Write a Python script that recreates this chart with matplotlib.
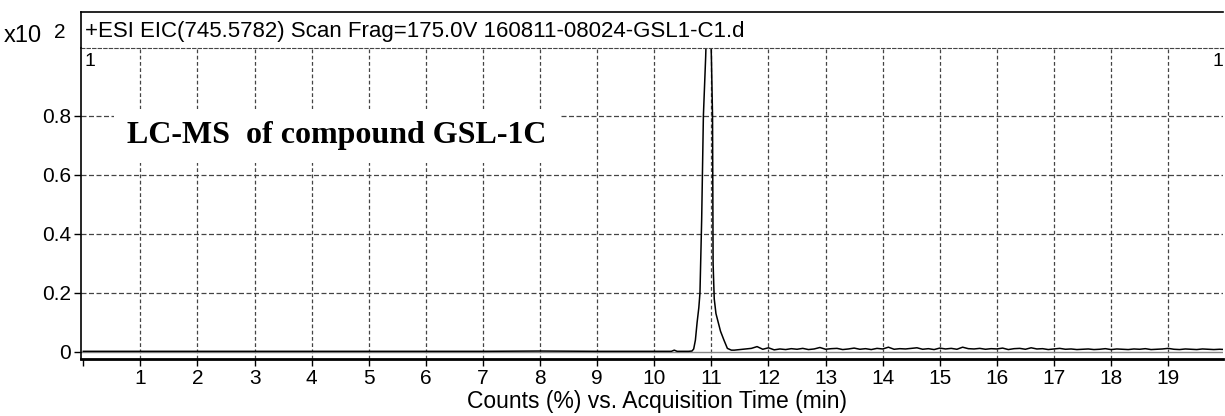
import numpy as np
import matplotlib.pyplot as plt

plt.rcParams['font.family'] = ['Liberation Sans', 'DejaVu Sans']

# baseline before the peak
t_pre = [0.0, 1.0, 2.0, 3.0, 4.0, 5.0, 6.0, 7.0, 8.0, 9.0, 10.0, 10.3, 10.35, 10.4, 10.6, 10.66]
y_pre = [0.002, 0.002, 0.002, 0.002, 0.002, 0.002, 0.002, 0.002, 0.003, 0.002, 0.002, 0.002, 0.006, 0.002, 0.002, 0.003]

# the main peak around 11 min
t_peak = [10.69, 10.72, 10.75, 10.78, 10.80, 10.83, 10.86, 10.90, 10.93, 10.97, 11.00, 11.02,
          11.03, 11.05, 11.08, 11.12, 11.16, 11.22, 11.28, 11.35]
y_peak = [0.01, 0.04, 0.10, 0.15, 0.20, 0.45, 0.80, 1.00, 1.20, 1.20, 1.00, 0.80,
          0.30, 0.18, 0.13, 0.10, 0.07, 0.04, 0.012, 0.006]

# noisy baseline after the peak
t_post = np.round(np.arange(11.4, 20.01, 0.1), 1)
y_post = [0.006, 0.008, 0.010, 0.012, 0.018, 0.009, 0.014, 0.007, 0.010, 0.008,
          0.011, 0.009, 0.012, 0.008, 0.010, 0.015, 0.009, 0.011, 0.012, 0.008,
          0.010, 0.013, 0.009, 0.011, 0.008, 0.012, 0.010, 0.016, 0.009, 0.011,
          0.010, 0.012, 0.014, 0.009, 0.011, 0.008, 0.013, 0.010, 0.012, 0.009,
          0.016, 0.011, 0.010, 0.012, 0.009, 0.011, 0.010, 0.013, 0.008, 0.011,
          0.012, 0.009, 0.014, 0.010, 0.011, 0.008, 0.010, 0.012, 0.009, 0.010,
          0.008, 0.009, 0.010, 0.008, 0.009, 0.011, 0.008, 0.010, 0.009, 0.008,
          0.010, 0.009, 0.011, 0.008, 0.009, 0.010, 0.012, 0.009, 0.008, 0.010,
          0.009, 0.008, 0.010, 0.009, 0.008, 0.009, 0.008]

t = list(t_pre) + list(t_peak) + list(t_post)
y = list(y_pre) + list(y_peak) + list(y_post)

xticks = list(range(1, 20))
yticks = [0, 0.2, 0.4, 0.6, 0.8]
yticklabels = ['0', '0.2', '0.4', '0.6', '0.8']

W, H = 1225, 416
fig = plt.figure(figsize=(W / 100, H / 100), dpi=100)
L, R, T, B = 81, 1223, 48, 359
ax = fig.add_axes([L / W, 1 - B / H, (R - L) / W, (B - T) / H])

ax.plot(t, y, color='black', lw=1.1)
ax.set_xlim(-0.04, 19.96)
ax.set_ylim(-0.024, 1.03)

for xv in xticks:
    ax.axvline(xv, color='#444444', lw=0.9, ls=(0, (3, 2)), zorder=0)
for yv in yticks[1:]:
    ax.axhline(yv, color='#444444', lw=0.9, ls=(0, (4, 2)), zorder=0)
ax.axhline(0, color='#888888', lw=1.0, zorder=0)

ax.set_xticks([0] + xticks)
ax.set_xticklabels([''] + [str(v) for v in xticks], fontsize=15)
ax.set_yticks(yticks)
ax.set_yticklabels(yticklabels, fontsize=15)
ax.tick_params(axis='x', direction='out', length=5, width=1, pad=2)
ax.tick_params(axis='y', direction='out', length=5, width=1, pad=2)

ax.spines['top'].set_linestyle((0, (3, 2)))
ax.spines['top'].set_color('#444444')
ax.spines['right'].set_visible(False)
ax.spines['bottom'].set_linewidth(2.0)
ax.spines['left'].set_linewidth(1.2)

ax.set_xlabel('Counts (%) vs. Acquisition Time (min)', fontsize=16.5)
ax.xaxis.set_label_coords(0.504, -0.1)

ax.text(0.003, 0.985, '1', transform=ax.transAxes, fontsize=14, va='top', ha='left')
ax.text(1.0, 0.985, '1', transform=ax.transAxes, fontsize=14, va='top', ha='right')

ax.text(0.77, 0.732, 'LC-MS  of compound GSL-1C', fontsize=23, fontweight='bold',
        family='Liberation Serif', va='center', ha='left', zorder=3,
        bbox=dict(boxstyle='square,pad=0.4', facecolor='white', edgecolor='none'))

# header band above the plot
fig.add_artist(plt.Line2D([L / W, R / W], [1 - 12 / H, 1 - 12 / H], color='black', lw=1.2))
fig.add_artist(plt.Line2D([L / W, L / W], [1 - 12 / H, 1 - T / H], color='black', lw=1.2))
fig.text(85 / W, 1 - 31 / H, '+ESI EIC(745.5782) Scan Frag=175.0V 160811-08024-GSL1-C1.d',
         fontsize=16, va='center', ha='left')
fig.text(4 / W, 1 - 36 / H, 'x10', fontsize=17, va='center', ha='left')
fig.text(54 / W, 1 - 32 / H, '2', fontsize=15, va='center', ha='left')

fig.savefig('out.png', dpi=100)
